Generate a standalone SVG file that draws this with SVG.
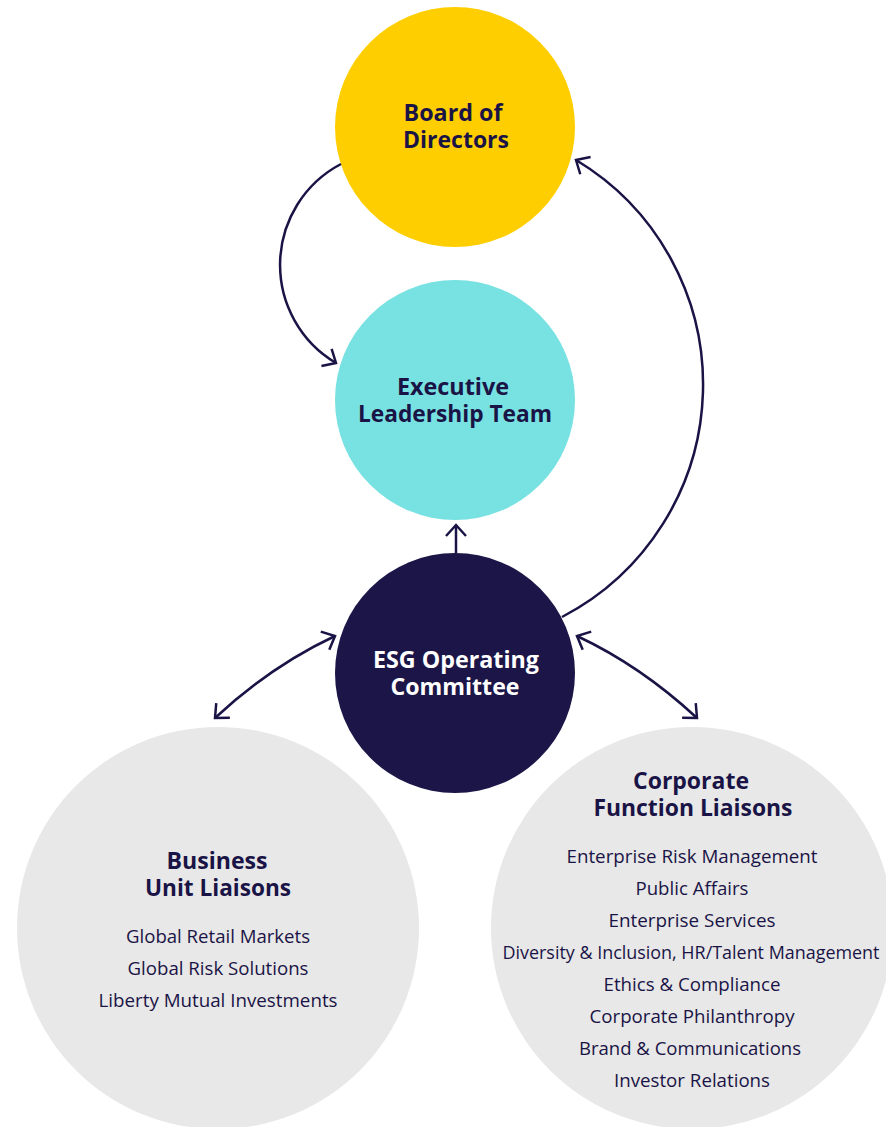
<svg xmlns="http://www.w3.org/2000/svg" width="886" height="1127" viewBox="0 0 886 1127">
  <style>
    .t { font-family: "Open Sans", "Noto Sans", "Liberation Sans", sans-serif; text-anchor: middle; fill: #1A1446; }
    .h { font-size: 24px; font-weight: 700; }
    .b { font-size: 19px; font-weight: 400; }
    .w { fill: #FFFFFF; }
    .conn { fill: none; stroke: #1A1446; stroke-width: 2.5; }
  </style>
  <defs>
    <marker id="ah" viewBox="-14 -13 18 26" refX="0" refY="0" markerWidth="18" markerHeight="26" markerUnits="userSpaceOnUse" orient="auto-start-reverse" style="overflow:visible">
      <path d="M-11,-10 L0,0 L-11,10" fill="none" stroke="#1A1446" stroke-width="2.5" stroke-linejoin="miter"/>
    </marker>
  </defs>
  <rect width="886" height="1127" fill="#FFFFFF"/>

  <g id="business-unit-liaisons">
    <circle cx="218" cy="928" r="201" fill="#E8E8E8"/>
    <text class="t h" x="217" y="869" textLength="101" lengthAdjust="spacingAndGlyphs">Business</text>
    <text class="t h" x="218" y="896" textLength="146" lengthAdjust="spacingAndGlyphs">Unit Liaisons</text>
    <text class="t b" x="218" y="943" textLength="184" lengthAdjust="spacingAndGlyphs">Global Retail Markets</text>
    <text class="t b" x="218" y="975" textLength="181" lengthAdjust="spacingAndGlyphs">Global Risk Solutions</text>
    <text class="t b" x="218" y="1007" textLength="239" lengthAdjust="spacingAndGlyphs">Liberty Mutual Investments</text>
  </g>

  <g id="corporate-function-liaisons">
    <circle cx="692" cy="928" r="201" fill="#E8E8E8"/>
    <text class="t h" x="691" y="789" textLength="116" lengthAdjust="spacingAndGlyphs">Corporate</text>
    <text class="t h" x="693" y="816" textLength="199" lengthAdjust="spacingAndGlyphs">Function Liaisons</text>
    <text class="t b" x="692" y="863" textLength="251" lengthAdjust="spacingAndGlyphs">Enterprise Risk Management</text>
    <text class="t b" x="692" y="895" textLength="113" lengthAdjust="spacingAndGlyphs">Public Affairs</text>
    <text class="t b" x="692" y="927" textLength="167" lengthAdjust="spacingAndGlyphs">Enterprise Services</text>
    <text class="t b" x="691" y="959" textLength="377" lengthAdjust="spacingAndGlyphs">Diversity &amp; Inclusion, HR/Talent Management</text>
    <text class="t b" x="692" y="991" textLength="177" lengthAdjust="spacingAndGlyphs">Ethics &amp; Compliance</text>
    <text class="t b" x="692" y="1023" textLength="205" lengthAdjust="spacingAndGlyphs">Corporate Philanthropy</text>
    <text class="t b" x="690" y="1055" textLength="222" lengthAdjust="spacingAndGlyphs">Brand &amp; Communications</text>
    <text class="t b" x="692" y="1087" textLength="156" lengthAdjust="spacingAndGlyphs">Investor Relations</text>
  </g>

  <g id="board-of-directors">
    <circle cx="455" cy="127" r="120" fill="#FFCE00"/>
    <text class="t h" x="453" y="121" textLength="99" lengthAdjust="spacingAndGlyphs">Board of</text>
    <text class="t h" x="456" y="148" textLength="106" lengthAdjust="spacingAndGlyphs">Directors</text>
  </g>

  <g id="executive-leadership-team">
    <circle cx="455" cy="400" r="120" fill="#78E1E1"/>
    <text class="t h" x="453" y="395" textLength="112" lengthAdjust="spacingAndGlyphs">Executive</text>
    <text class="t h" x="455" y="422" textLength="194" lengthAdjust="spacingAndGlyphs">Leadership Team</text>
  </g>

  <g id="esg-operating-committee">
    <circle cx="455" cy="673" r="120" fill="#1C1547"/>
    <text class="t h w" x="456" y="668" textLength="166" lengthAdjust="spacingAndGlyphs">ESG Operating</text>
    <text class="t h w" x="455" y="695" textLength="129" lengthAdjust="spacingAndGlyphs">Committee</text>
  </g>

  <g id="connectors">
    <path class="conn" d="M341,164 A114,114 0 0 0 336,363" marker-end="url(#ah)"/>
    <path class="conn" d="M562,617 A262,262 0 0 0 576,160" marker-end="url(#ah)"/>
    <path class="conn" d="M456,553 L456,525" marker-end="url(#ah)"/>
    <path class="conn" d="M215,718 Q271,666 335,636" marker-start="url(#ah)" marker-end="url(#ah)"/>
    <path class="conn" d="M697,718 Q641,666 577,636" marker-start="url(#ah)" marker-end="url(#ah)"/>
  </g>
</svg>
